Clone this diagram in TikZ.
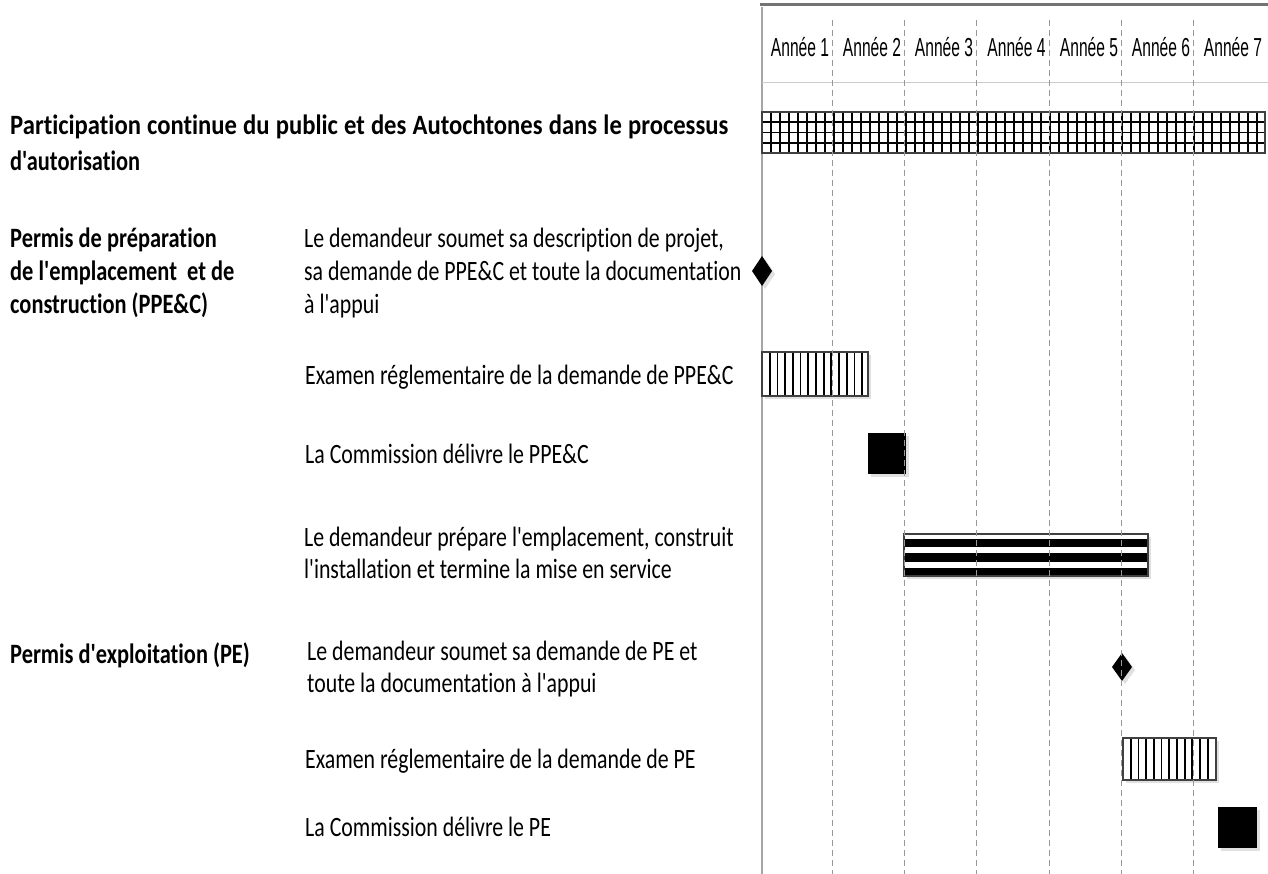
\documentclass[tikz,border=0pt]{standalone}
\usepackage{fontspec}
\setmainfont{Carlito}[FakeStretch=0.78, Ligatures={TeXOff,CommonOff}]
\newfontfamily\boldfam{Carlito}[FakeStretch=0.80, Ligatures={TeXOff,CommonOff}]
\newfontfamily\wideboldfam{Carlito}[FakeStretch=0.88, Ligatures={TeXOff,CommonOff}]
\newfontfamily\hdrfont{Liberation Sans}[FakeStretch=0.60]
\begin{document}
\begin{tikzpicture}[x=1pt,y=-1pt,
  lbl/.style={anchor=base west, inner sep=0pt, font=\fontsize{28}{33}\selectfont},
  blbl/.style={anchor=base west, inner sep=0pt, font=\boldfam\fontsize{28}{33}\selectfont\bfseries},
  wblbl/.style={anchor=base west, inner sep=0pt, font=\wideboldfam\fontsize{28}{33}\selectfont\bfseries},
  hdr/.style={anchor=base, inner sep=0pt, font=\hdrfont\fontsize{26}{28}\selectfont},
  shadow/.style={fill=black!12},
  grid line/.style={dash pattern=on 6pt off 4pt, line width=1pt},
  hatch/.style={line width=1.8pt, black},
  barframe/.style={draw=black!75, line width=1.2pt}
]
\useasboundingbox (0,0) rectangle (1268,874);
\fill[white] (0,0) rectangle (1268,874);

% frame lines
\draw[black!55, line width=3pt] (760,5) -- (1268,5);
\draw[black!35, line width=1.5pt] (762,7) -- (762,874);
\draw[black!20, line width=1pt] (762,83) -- (1268,83);

% header
\foreach \i/\c in {1/800,2/872,3/944,4/1016.5,5/1089,6/1161,7/1233}
  \node[hdr] (h\i) at (\c,57) {Année \i};

% grid bar (continuous participation)
\fill[white] (762,112) rectangle (1265,153);
\foreach \i in {1,...,55} \draw[hatch] (762+\i*9,112) -- (762+\i*9,153);
\foreach \y in {122,132.5,143} \draw[hatch] (762,\y) -- (1265,\y);
\draw[black!75, line width=2pt] (762,112) rectangle (1265,153);

% diamond 1
\fill[shadow] (765,259) -- (775,274) -- (765,289) -- (755,274) -- cycle;
\fill[black] (762,256) -- (772,271) -- (762,286) -- (752,271) -- cycle;

% hatched bar 1
\fill[shadow] (765,355) rectangle (871,399);
\fill[white] (762,352) rectangle (868,396);
\foreach \i in {1,...,13} \draw[hatch] (762+\i*7.7,352) -- (762+\i*7.7,396);
\draw[barframe] (762,352) rectangle (868,396);

% square 1
\fill[shadow] (871,436) rectangle (909,477);
\fill[black] (868,433) rectangle (906,474);

% striped bar
\fill[shadow] (907,537) rectangle (1151,579);
\fill[white] (904,534) rectangle (1148,576);
\fill[black] (904,538.5) rectangle (1148,547);
\fill[black] (904,553) rectangle (1148,562);
\fill[black] (904,568) rectangle (1148,576);
\draw[barframe] (904,534) rectangle (1148,576);

% diamond 2
\fill[shadow] (1125,656) -- (1135,670) -- (1125,684) -- (1115,670) -- cycle;
\fill[black] (1122,653) -- (1132,667) -- (1122,681) -- (1112,667) -- cycle;

% hatched bar 2
\fill[shadow] (1126,741) rectangle (1219,783);
\fill[white] (1123,738) rectangle (1216,780);
\foreach \i in {1,...,11} \draw[hatch] (1123+\i*7.7,738) -- (1123+\i*7.7,780);
\draw[barframe] (1123,738) rectangle (1216,780);

% square 2
\fill[shadow] (1221,810) rectangle (1260,851);
\fill[black] (1218,807) rectangle (1257,848);

% year dividers
\foreach \x in {832,904,976,1049,1121,1193}
  \draw[grid line, draw=black!40] (\x,20) -- (\x,874);

% left texts
\node[wblbl] (t1a) at (10,135) {\makebox[718pt][s]{Participation continue du public et des Autochtones dans le processus}};
\node[blbl] (t1b) at (10,171) {d'autorisation};

\node[blbl] (p1a) at (10,248) {Permis de préparation};
\node[blbl] (p1b) at (10,281) {de l'emplacement\ \ et de};
\node[blbl] (p1c) at (10,313) {construction (PPE\&C)};

\node[lbl] (a1a) at (304,248) {Le demandeur soumet sa description de projet,};
\node[lbl] (a1b) at (304,281) {sa demande de PPE\&C et toute la documentation};
\node[lbl] (a1c) at (304,313) {à l'appui};

\node[lbl] (a2) at (305,384) {Examen réglementaire de la demande de PPE\&C};
\node[lbl] (a3) at (305,463) {La Commission délivre le PPE\&C};

\node[lbl] (a4a) at (304,546) {Le demandeur prépare l'emplacement, construit};
\node[lbl] (a4b) at (304,578) {l'installation et termine la mise en service};

\node[blbl] (p2) at (10,663) {Permis d'exploitation (PE)};
\node[lbl] (a5a) at (307,660) {Le demandeur soumet sa demande de PE et};
\node[lbl] (a5b) at (307,692) {toute la documentation à l'appui};

\node[lbl] (a6) at (305,768) {Examen réglementaire de la demande de PE};
\node[lbl] (a7) at (305,836) {La Commission délivre le PE};
\end{tikzpicture}
\end{document}
